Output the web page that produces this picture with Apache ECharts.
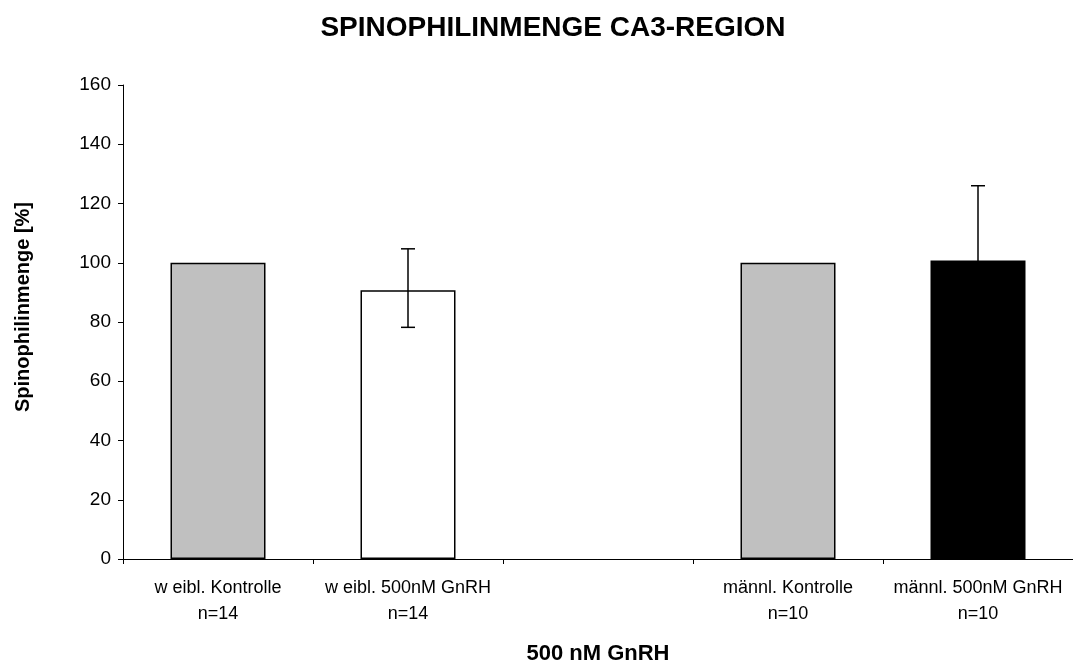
<!DOCTYPE html>
<html>
<head>
<meta charset="utf-8">
<script src="https://cdn.jsdelivr.net/npm/echarts@6/dist/echarts.min.js"></script>
<style>
  html, body { margin: 0; padding: 0; background: #fff; overflow: hidden; }
  #chart { width: 1073px; height: 670px; }
</style>
</head>
<body>
<div id="chart"></div>
<script>
// Groups on the x axis (the empty slot separates female and male groups)
const categories = [
  'w eibl. Kontrolle\nn=14',
  'w eibl. 500nM GnRH\nn=14',
  '',
  'männl. Kontrolle\nn=10',
  'männl. 500nM GnRH\nn=10'
];
// Mean spinophilin amount in percent of control
const meanValues = [100, 90.7, null, 100, 100.8];
// Error bar limits
const errLow  = [null, 78.2, null, null, 75.6];
const errHigh = [null, 104.7, null, null, 126.0];
// Fill colour per bar
const barColors = ['#C0C0C0', '#FFFFFF', null, '#C0C0C0', '#000000'];
// Y axis ticks
const yMin = 0, yMax = 160, yStep = 20;

const FONT = '"Liberation Sans", Arial, sans-serif';

const chart = echarts.init(document.getElementById('chart'), null, { renderer: 'canvas' });

const barData = meanValues.map((v, i) => ({
  value: v,
  itemStyle: { color: barColors[i] || '#fff' }
}));

const errData = categories.map((c, i) => [i, errLow[i], errHigh[i]]).filter(d => d[1] != null);

chart.setOption({
  animation: false,
  backgroundColor: '#ffffff',
  title: {
    text: 'SPINOPHILINMENGE CA3-REGION',
    left: 548,
    textAlign: 'center',
    top: 9,
    textStyle: { fontFamily: FONT, fontWeight: 'bold', fontSize: 28, color: '#000' }
  },
  grid: { left: 123, top: 85, width: 955, height: 480, containLabel: false },
  xAxis: {
    type: 'category',
    data: categories,
    name: '500 nM GnRH',
    nameLocation: 'middle',
    nameGap: 84,
    nameTextStyle: { fontFamily: FONT, fontWeight: 'bold', fontSize: 22, color: '#000' },
    axisLine: { lineStyle: { color: '#000', width: 1 } },
    axisTick: { show: true, length: 5, alignWithLabel: false, lineStyle: { color: '#000' } },
    axisLabel: {
      fontFamily: FONT, fontSize: 18, color: '#000', lineHeight: 26, margin: 16, interval: 0
    }
  },
  yAxis: {
    type: 'value',
    min: yMin, max: yMax, interval: yStep,
    name: 'Spinophilinmenge [%]',
    nameLocation: 'middle',
    nameGap: 90,
    nameTextStyle: { fontFamily: FONT, fontWeight: 'bold', fontSize: 20, color: '#000', padding: [0, 0, 0, 30] },
    axisLine: { show: true, lineStyle: { color: '#000', width: 1 } },
    axisTick: { show: true, length: 5, lineStyle: { color: '#000' } },
    splitLine: { show: false },
    axisLabel: { fontFamily: FONT, fontSize: 19, color: '#000', margin: 12 }
  },
  series: [
    {
      type: 'bar',
      data: barData,
      barWidth: '50%',
      itemStyle: { borderColor: '#000', borderWidth: 1.5 }
    },
    {
      type: 'custom',
      data: errData,
      z: 10,
      renderItem: function (params, api) {
        const x = api.value(0);
        const lo = api.coord([x, api.value(1)]);
        const hi = api.coord([x, api.value(2)]);
        const cap = 7;
        const style = { stroke: '#000', lineWidth: 1.5 };
        return {
          type: 'group',
          children: [
            { type: 'line', shape: { x1: hi[0], y1: hi[1], x2: lo[0], y2: lo[1] }, style: style },
            { type: 'line', shape: { x1: hi[0] - cap, y1: hi[1], x2: hi[0] + cap, y2: hi[1] }, style: style },
            { type: 'line', shape: { x1: lo[0] - cap, y1: lo[1], x2: lo[0] + cap, y2: lo[1] }, style: style }
          ]
        };
      }
    }
  ]
});
</script>
</body>
</html>
